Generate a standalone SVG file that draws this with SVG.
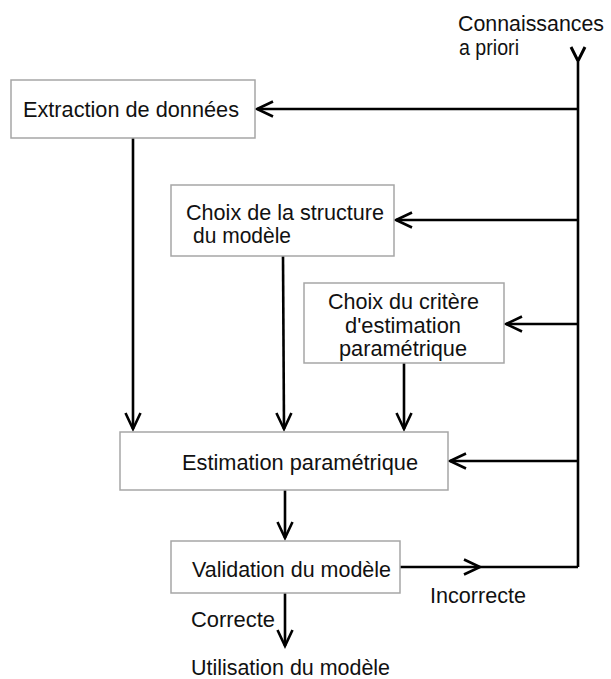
<svg xmlns="http://www.w3.org/2000/svg" width="611" height="679" viewBox="0 0 611 679">
<style>
.box{fill:#fff;stroke:#a6a6a6;stroke-width:1.5}
.t{font-family:"Liberation Sans",Arial,sans-serif;font-size:22.5px;fill:#111}
.ln{fill:none;stroke:#000;stroke-width:2.6}
</style>
<defs>
<marker id="ah" markerUnits="userSpaceOnUse" viewBox="-20 -10 22 20" refX="0" refY="0" markerWidth="22" markerHeight="20" orient="auto" overflow="visible">
<path d="M-16,-7.5 L0,0 L-16,7.5" fill="none" stroke="#000" stroke-width="2.6"/>
</marker>
</defs>
<rect width="611" height="679" fill="#fff"/>
<g id="connectors">
<line class="ln" x1="578" y1="62" x2="578" y2="567"/>
<path d="M571,47 L578,61 L585,47" fill="none" stroke="#000" stroke-width="3"/>
<line class="ln" x1="578" y1="109" x2="257" y2="109" marker-end="url(#ah)"/>
<line class="ln" x1="578" y1="220" x2="396" y2="220" marker-end="url(#ah)"/>
<line class="ln" x1="578" y1="324" x2="506" y2="324" marker-end="url(#ah)"/>
<line class="ln" x1="578" y1="461" x2="450" y2="461" marker-end="url(#ah)"/>
<line class="ln" x1="133" y1="138" x2="133" y2="429" marker-end="url(#ah)"/>
<line class="ln" x1="283" y1="256" x2="284" y2="429" marker-end="url(#ah)"/>
<line class="ln" x1="404" y1="363" x2="404" y2="429" marker-end="url(#ah)"/>
<line class="ln" x1="285" y1="490" x2="285" y2="538" marker-end="url(#ah)"/>
<line class="ln" x1="400" y1="567" x2="480" y2="567" marker-end="url(#ah)"/>
<line class="ln" x1="480" y1="567" x2="578" y2="567"/>
<line class="ln" x1="285" y1="593" x2="285" y2="646" marker-end="url(#ah)"/>
</g>
<g id="label-connaissances">
<text class="t" x="458" y="31" textLength="146" lengthAdjust="spacingAndGlyphs">Connaissances</text>
<text class="t" x="459" y="55" textLength="60" lengthAdjust="spacingAndGlyphs">a priori</text>
</g>
<g id="extraction">
<rect class="box" x="11" y="80" width="244" height="58"/>
<text class="t" x="23" y="117" textLength="216" lengthAdjust="spacingAndGlyphs">Extraction de données</text>
</g>
<g id="structure">
<rect class="box" x="171" y="185" width="223" height="71"/>
<text class="t" x="186" y="220" textLength="198" lengthAdjust="spacingAndGlyphs">Choix de la structure</text>
<text class="t" x="193" y="243" textLength="98" lengthAdjust="spacingAndGlyphs">du modèle</text>
</g>
<g id="critere">
<rect class="box" x="304" y="283" width="200" height="80"/>
<text class="t" x="328" y="309" textLength="151" lengthAdjust="spacingAndGlyphs">Choix du critère</text>
<text class="t" x="345" y="333" textLength="116" lengthAdjust="spacingAndGlyphs">d'estimation</text>
<text class="t" x="339" y="356" textLength="128" lengthAdjust="spacingAndGlyphs">paramétrique</text>
</g>
<g id="estimation">
<rect class="box" x="120" y="432" width="328" height="58"/>
<text class="t" x="182" y="470" textLength="236" lengthAdjust="spacingAndGlyphs">Estimation paramétrique</text>
</g>
<g id="validation">
<rect class="box" x="171" y="541" width="229" height="52"/>
<text class="t" x="192" y="577" textLength="199" lengthAdjust="spacingAndGlyphs">Validation du modèle</text>
</g>
<g id="labels">
<text class="t" x="430" y="603" textLength="96" lengthAdjust="spacingAndGlyphs">Incorrecte</text>
<text class="t" x="191" y="627" textLength="84" lengthAdjust="spacingAndGlyphs">Correcte</text>
</g>
<g id="utilisation">
<text class="t" x="191" y="675" textLength="199" lengthAdjust="spacingAndGlyphs">Utilisation du modèle</text>
</g>
</svg>
